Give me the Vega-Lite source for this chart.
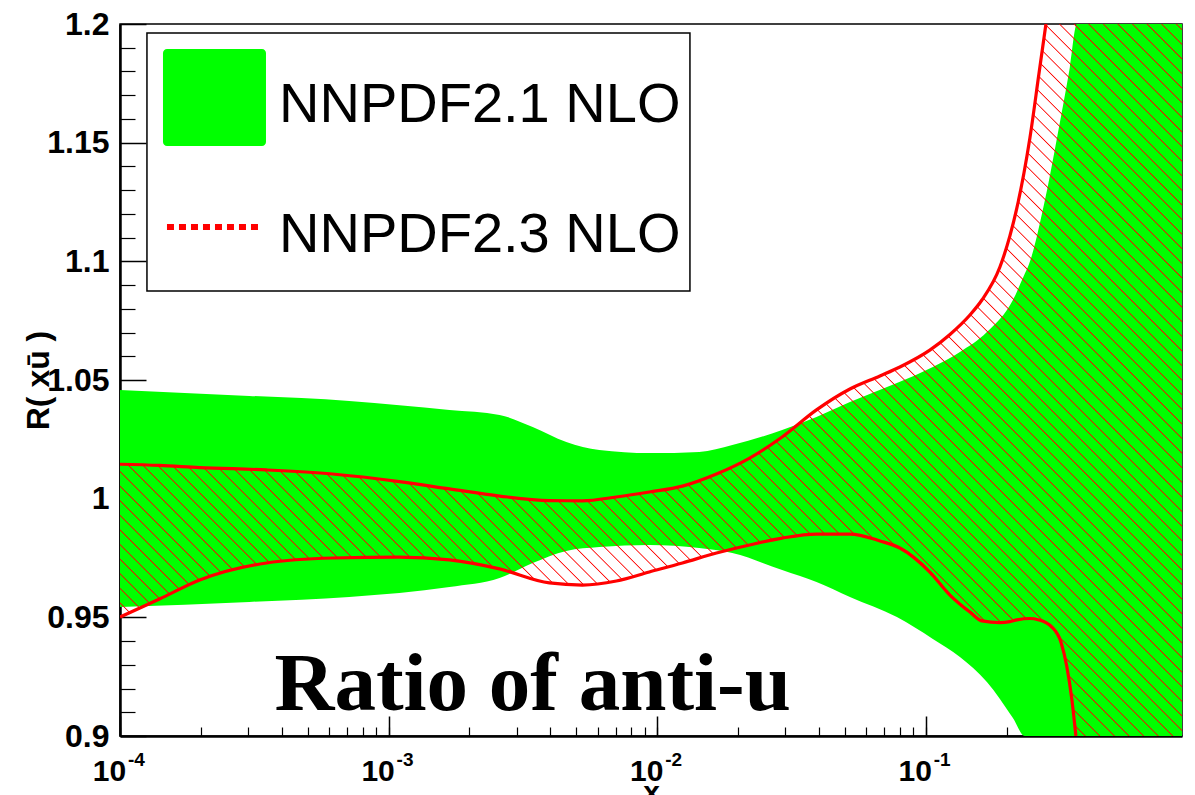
{
  "$schema": "https://vega.github.io/schema/vega-lite/v6.json",
  "width": 1062,
  "height": 712,
  "autosize": {"type": "none"},
  "padding": {"left": 120, "top": 24, "right": 13, "bottom": 59},
  "background": "white",
  "config": {
    "view": {"stroke": "#000", "strokeWidth": 1.5},
    "axis": {
      "grid": false,
      "labelFont": "Liberation Sans",
      "labelFontWeight": "bold",
      "labelColor": "#000",
      "tickColor": "#000",
      "domainColor": "#000",
      "titleFont": "Liberation Sans",
      "titleFontWeight": "bold",
      "titleColor": "#000",
      "labelFlush": false,
      "labelOverlap": false
    }
  },
  "data": {"values": [{}]},
  "datasets": {
    "nnpdf21": [
      {"x": 0.0001, "lo": 0.9544, "hi": 1.0458},
      {"x": 0.000303, "lo": 0.9565, "hi": 1.0433},
      {"x": 0.000714, "lo": 0.9586, "hi": 1.0412},
      {"x": 0.001686, "lo": 0.9628, "hi": 1.0374},
      {"x": 0.00259, "lo": 0.9666, "hi": 1.0353},
      {"x": 0.00344, "lo": 0.9729, "hi": 1.0302},
      {"x": 0.00459, "lo": 0.978, "hi": 1.0239},
      {"x": 0.00609, "lo": 0.9796, "hi": 1.0205},
      {"x": 0.00935, "lo": 0.9805, "hi": 1.0192},
      {"x": 0.01434, "lo": 0.9792, "hi": 1.0197},
      {"x": 0.01905, "lo": 0.9771, "hi": 1.0226},
      {"x": 0.0292, "lo": 0.9699, "hi": 1.0289},
      {"x": 0.0392, "lo": 0.9649, "hi": 1.0344},
      {"x": 0.05222, "lo": 0.9586, "hi": 1.0407},
      {"x": 0.0781, "lo": 0.9501, "hi": 1.0487},
      {"x": 0.1063, "lo": 0.9409, "hi": 1.0555},
      {"x": 0.1341, "lo": 0.9333, "hi": 1.0618},
      {"x": 0.169, "lo": 0.9228, "hi": 1.0702},
      {"x": 0.2112, "lo": 0.9076, "hi": 1.0837},
      {"x": 0.234, "lo": 0.9, "hi": 1.0949},
      {"x": 0.2401, "lo": 0.9, "hi": 1.0976},
      {"x": 0.2779, "lo": 0.9, "hi": 1.1258},
      {"x": 0.3106, "lo": 0.9, "hi": 1.1541},
      {"x": 0.3442, "lo": 0.9, "hi": 1.1819},
      {"x": 0.3655, "lo": 0.9, "hi": 1.2},
      {"x": 0.9, "lo": 0.9, "hi": 1.2}
    ],
    "nnpdf23": [
      {"x": 0.0001, "lo": 0.9501, "hi": 1.0145},
      {"x": 0.0001403, "lo": 0.9577, "hi": 1.014},
      {"x": 0.000198, "lo": 0.9657, "hi": 1.0131},
      {"x": 0.000351, "lo": 0.9729, "hi": 1.0121},
      {"x": 0.000618, "lo": 0.975, "hi": 1.0104},
      {"x": 0.001096, "lo": 0.9754, "hi": 1.0072},
      {"x": 0.001686, "lo": 0.9742, "hi": 1.0041},
      {"x": 0.00259, "lo": 0.9704, "hi": 1.0011},
      {"x": 0.00397, "lo": 0.9645, "hi": 0.9992},
      {"x": 0.00527, "lo": 0.9636, "hi": 0.9991},
      {"x": 0.00705, "lo": 0.9653, "hi": 1.0007},
      {"x": 0.00935, "lo": 0.9691, "hi": 1.0028},
      {"x": 0.01242, "lo": 0.9729, "hi": 1.0053},
      {"x": 0.01663, "lo": 0.9771, "hi": 1.0104},
      {"x": 0.0221, "lo": 0.9805, "hi": 1.0171},
      {"x": 0.0292, "lo": 0.9834, "hi": 1.026},
      {"x": 0.0392, "lo": 0.9851, "hi": 1.0374},
      {"x": 0.05222, "lo": 0.9851, "hi": 1.0462},
      {"x": 0.06753, "lo": 0.9822, "hi": 1.0517},
      {"x": 0.08014, "lo": 0.9792, "hi": 1.0555},
      {"x": 0.1036, "lo": 0.9691, "hi": 1.0626},
      {"x": 0.1231, "lo": 0.9594, "hi": 1.0692},
      {"x": 0.1461, "lo": 0.9522, "hi": 1.0774},
      {"x": 0.1619, "lo": 0.9485, "hi": 1.0837},
      {"x": 0.1889, "lo": 0.9478, "hi": 1.0976},
      {"x": 0.2058, "lo": 0.9482, "hi": 1.1107},
      {"x": 0.2185, "lo": 0.9489, "hi": 1.1225},
      {"x": 0.2443, "lo": 0.9495, "hi": 1.152},
      {"x": 0.2639, "lo": 0.9489, "hi": 1.1789},
      {"x": 0.2803, "lo": 0.9478, "hi": 1.2},
      {"x": 0.295, "lo": 0.9459, "hi": 1.2},
      {"x": 0.3187, "lo": 0.9396, "hi": 1.2},
      {"x": 0.3355, "lo": 0.9291, "hi": 1.2},
      {"x": 0.3502, "lo": 0.9152, "hi": 1.2},
      {"x": 0.3624, "lo": 0.9, "hi": 1.2},
      {"x": 0.9, "lo": 0.9, "hi": 1.2}
    ]
  },
  "layer": [
    {
      "data": {"name": "nnpdf21"},
      "mark": {"type": "area", "interpolate": "monotone", "clip": true, "color": "#00ff00"},
      "encoding": {
        "x": {
          "field": "x", "type": "quantitative",
          "scale": {"type": "log", "domain": [0.0001, 0.9], "nice": false},
          "axis": {
            "orient": "bottom",
            "values": [0.0001, 0.001, 0.01, 0.1],
            "tickSize": -20, "tickWidth": 1.5, "domainWidth": 2.5,
            "labelFontSize": 30, "labelPadding": 40, "labelOffset": -11,
            "labelExpr": "'10'",
            "title": "x", "titleFontSize": 30, "titleY": 65, "titleBaseline": "alphabetic"
          }
        },
        "y": {
          "field": "lo", "type": "quantitative",
          "scale": {"domain": [0.9, 1.2], "nice": false, "zero": false},
          "axis": {
            "orient": "left",
            "values": [0.9, 0.95, 1, 1.05, 1.1, 1.15, 1.2],
            "format": "~g",
            "tickSize": -26, "tickWidth": 1.5, "domainWidth": 2.5,
            "labelFontSize": 32, "labelPadding": 37,
            "title": "R( xū )", "titleFontSize": 32, "titleX": -72, "titleY": 356,
            "titleAngle": -90, "titleBaseline": "alphabetic", "titleAlign": "center"
          }
        },
        "y2": {"field": "hi"}
      }
    },
    {
      "data": {"name": "nnpdf23"},
      "mark": {
        "type": "area", "interpolate": "monotone", "clip": true,
        "color": {
          "gradient": "linear", "x1": 0, "y1": 1, "x2": 1.1524, "y2": 0.2274,
          "stops": [
{"offset":0.00028,"color":"#f000"},{"offset":0.00096,"color":"#f00"},{"offset":0.00163,"color":"#f000"},
{"offset":0.00851,"color":"#f000"},{"offset":0.00919,"color":"#f00"},{"offset":0.00986,"color":"#f000"},
{"offset":0.01674,"color":"#f000"},{"offset":0.01742,"color":"#f00"},{"offset":0.01809,"color":"#f000"},
{"offset":0.02497,"color":"#f000"},{"offset":0.02565,"color":"#f00"},{"offset":0.02632,"color":"#f000"},
{"offset":0.0332,"color":"#f000"},{"offset":0.03388,"color":"#f00"},{"offset":0.03455,"color":"#f000"},
{"offset":0.04143,"color":"#f000"},{"offset":0.04211,"color":"#f00"},{"offset":0.04278,"color":"#f000"},
{"offset":0.04966,"color":"#f000"},{"offset":0.05034,"color":"#f00"},{"offset":0.05101,"color":"#f000"},
{"offset":0.05789,"color":"#f000"},{"offset":0.05857,"color":"#f00"},{"offset":0.05924,"color":"#f000"},
{"offset":0.06612,"color":"#f000"},{"offset":0.0668,"color":"#f00"},{"offset":0.06747,"color":"#f000"},
{"offset":0.07435,"color":"#f000"},{"offset":0.07503,"color":"#f00"},{"offset":0.0757,"color":"#f000"},
{"offset":0.08258,"color":"#f000"},{"offset":0.08326,"color":"#f00"},{"offset":0.08393,"color":"#f000"},
{"offset":0.09081,"color":"#f000"},{"offset":0.09149,"color":"#f00"},{"offset":0.09216,"color":"#f000"},
{"offset":0.09904,"color":"#f000"},{"offset":0.09972,"color":"#f00"},{"offset":0.10039,"color":"#f000"},
{"offset":0.10727,"color":"#f000"},{"offset":0.10795,"color":"#f00"},{"offset":0.10862,"color":"#f000"},
{"offset":0.1155,"color":"#f000"},{"offset":0.11618,"color":"#f00"},{"offset":0.11685,"color":"#f000"},
{"offset":0.12373,"color":"#f000"},{"offset":0.12441,"color":"#f00"},{"offset":0.12508,"color":"#f000"},
{"offset":0.13196,"color":"#f000"},{"offset":0.13264,"color":"#f00"},{"offset":0.13331,"color":"#f000"},
{"offset":0.14019,"color":"#f000"},{"offset":0.14087,"color":"#f00"},{"offset":0.14154,"color":"#f000"},
{"offset":0.14842,"color":"#f000"},{"offset":0.1491,"color":"#f00"},{"offset":0.14977,"color":"#f000"},
{"offset":0.15665,"color":"#f000"},{"offset":0.15733,"color":"#f00"},{"offset":0.158,"color":"#f000"},
{"offset":0.16488,"color":"#f000"},{"offset":0.16556,"color":"#f00"},{"offset":0.16623,"color":"#f000"},
{"offset":0.17311,"color":"#f000"},{"offset":0.17379,"color":"#f00"},{"offset":0.17446,"color":"#f000"},
{"offset":0.18134,"color":"#f000"},{"offset":0.18202,"color":"#f00"},{"offset":0.18269,"color":"#f000"},
{"offset":0.18957,"color":"#f000"},{"offset":0.19025,"color":"#f00"},{"offset":0.19092,"color":"#f000"},
{"offset":0.1978,"color":"#f000"},{"offset":0.19848,"color":"#f00"},{"offset":0.19915,"color":"#f000"},
{"offset":0.20603,"color":"#f000"},{"offset":0.20671,"color":"#f00"},{"offset":0.20738,"color":"#f000"},
{"offset":0.21426,"color":"#f000"},{"offset":0.21494,"color":"#f00"},{"offset":0.21561,"color":"#f000"},
{"offset":0.22249,"color":"#f000"},{"offset":0.22317,"color":"#f00"},{"offset":0.22384,"color":"#f000"},
{"offset":0.23072,"color":"#f000"},{"offset":0.2314,"color":"#f00"},{"offset":0.23207,"color":"#f000"},
{"offset":0.23895,"color":"#f000"},{"offset":0.23963,"color":"#f00"},{"offset":0.2403,"color":"#f000"},
{"offset":0.24718,"color":"#f000"},{"offset":0.24786,"color":"#f00"},{"offset":0.24853,"color":"#f000"},
{"offset":0.25541,"color":"#f000"},{"offset":0.25609,"color":"#f00"},{"offset":0.25676,"color":"#f000"},
{"offset":0.26364,"color":"#f000"},{"offset":0.26432,"color":"#f00"},{"offset":0.26499,"color":"#f000"},
{"offset":0.27187,"color":"#f000"},{"offset":0.27255,"color":"#f00"},{"offset":0.27322,"color":"#f000"},
{"offset":0.2801,"color":"#f000"},{"offset":0.28078,"color":"#f00"},{"offset":0.28145,"color":"#f000"},
{"offset":0.28833,"color":"#f000"},{"offset":0.28901,"color":"#f00"},{"offset":0.28968,"color":"#f000"},
{"offset":0.29656,"color":"#f000"},{"offset":0.29724,"color":"#f00"},{"offset":0.29791,"color":"#f000"},
{"offset":0.30479,"color":"#f000"},{"offset":0.30547,"color":"#f00"},{"offset":0.30614,"color":"#f000"},
{"offset":0.31302,"color":"#f000"},{"offset":0.3137,"color":"#f00"},{"offset":0.31437,"color":"#f000"},
{"offset":0.32125,"color":"#f000"},{"offset":0.32193,"color":"#f00"},{"offset":0.3226,"color":"#f000"},
{"offset":0.32948,"color":"#f000"},{"offset":0.33016,"color":"#f00"},{"offset":0.33083,"color":"#f000"},
{"offset":0.33771,"color":"#f000"},{"offset":0.33839,"color":"#f00"},{"offset":0.33906,"color":"#f000"},
{"offset":0.34594,"color":"#f000"},{"offset":0.34662,"color":"#f00"},{"offset":0.34729,"color":"#f000"},
{"offset":0.35417,"color":"#f000"},{"offset":0.35485,"color":"#f00"},{"offset":0.35552,"color":"#f000"},
{"offset":0.3624,"color":"#f000"},{"offset":0.36308,"color":"#f00"},{"offset":0.36375,"color":"#f000"},
{"offset":0.37063,"color":"#f000"},{"offset":0.37131,"color":"#f00"},{"offset":0.37198,"color":"#f000"},
{"offset":0.37886,"color":"#f000"},{"offset":0.37954,"color":"#f00"},{"offset":0.38021,"color":"#f000"},
{"offset":0.38709,"color":"#f000"},{"offset":0.38777,"color":"#f00"},{"offset":0.38844,"color":"#f000"},
{"offset":0.39532,"color":"#f000"},{"offset":0.396,"color":"#f00"},{"offset":0.39667,"color":"#f000"},
{"offset":0.40355,"color":"#f000"},{"offset":0.40423,"color":"#f00"},{"offset":0.4049,"color":"#f000"},
{"offset":0.41178,"color":"#f000"},{"offset":0.41246,"color":"#f00"},{"offset":0.41313,"color":"#f000"},
{"offset":0.42001,"color":"#f000"},{"offset":0.42069,"color":"#f00"},{"offset":0.42136,"color":"#f000"},
{"offset":0.42824,"color":"#f000"},{"offset":0.42892,"color":"#f00"},{"offset":0.42959,"color":"#f000"},
{"offset":0.43647,"color":"#f000"},{"offset":0.43715,"color":"#f00"},{"offset":0.43782,"color":"#f000"},
{"offset":0.4447,"color":"#f000"},{"offset":0.44538,"color":"#f00"},{"offset":0.44605,"color":"#f000"},
{"offset":0.45293,"color":"#f000"},{"offset":0.45361,"color":"#f00"},{"offset":0.45428,"color":"#f000"},
{"offset":0.46116,"color":"#f000"},{"offset":0.46184,"color":"#f00"},{"offset":0.46251,"color":"#f000"},
{"offset":0.46939,"color":"#f000"},{"offset":0.47007,"color":"#f00"},{"offset":0.47074,"color":"#f000"},
{"offset":0.47762,"color":"#f000"},{"offset":0.4783,"color":"#f00"},{"offset":0.47897,"color":"#f000"},
{"offset":0.48585,"color":"#f000"},{"offset":0.48653,"color":"#f00"},{"offset":0.4872,"color":"#f000"},
{"offset":0.49408,"color":"#f000"},{"offset":0.49476,"color":"#f00"},{"offset":0.49543,"color":"#f000"},
{"offset":0.50231,"color":"#f000"},{"offset":0.50299,"color":"#f00"},{"offset":0.50366,"color":"#f000"},
{"offset":0.51054,"color":"#f000"},{"offset":0.51122,"color":"#f00"},{"offset":0.51189,"color":"#f000"},
{"offset":0.51877,"color":"#f000"},{"offset":0.51945,"color":"#f00"},{"offset":0.52012,"color":"#f000"},
{"offset":0.527,"color":"#f000"},{"offset":0.52768,"color":"#f00"},{"offset":0.52835,"color":"#f000"},
{"offset":0.53523,"color":"#f000"},{"offset":0.53591,"color":"#f00"},{"offset":0.53658,"color":"#f000"},
{"offset":0.54346,"color":"#f000"},{"offset":0.54414,"color":"#f00"},{"offset":0.54481,"color":"#f000"},
{"offset":0.55169,"color":"#f000"},{"offset":0.55237,"color":"#f00"},{"offset":0.55304,"color":"#f000"},
{"offset":0.55992,"color":"#f000"},{"offset":0.5606,"color":"#f00"},{"offset":0.56127,"color":"#f000"},
{"offset":0.56815,"color":"#f000"},{"offset":0.56883,"color":"#f00"},{"offset":0.5695,"color":"#f000"},
{"offset":0.57638,"color":"#f000"},{"offset":0.57706,"color":"#f00"},{"offset":0.57773,"color":"#f000"},
{"offset":0.58461,"color":"#f000"},{"offset":0.58529,"color":"#f00"},{"offset":0.58596,"color":"#f000"},
{"offset":0.59284,"color":"#f000"},{"offset":0.59352,"color":"#f00"},{"offset":0.59419,"color":"#f000"},
{"offset":0.60107,"color":"#f000"},{"offset":0.60175,"color":"#f00"},{"offset":0.60242,"color":"#f000"},
{"offset":0.6093,"color":"#f000"},{"offset":0.60998,"color":"#f00"},{"offset":0.61065,"color":"#f000"},
{"offset":0.61753,"color":"#f000"},{"offset":0.61821,"color":"#f00"},{"offset":0.61888,"color":"#f000"},
{"offset":0.62576,"color":"#f000"},{"offset":0.62644,"color":"#f00"},{"offset":0.62711,"color":"#f000"},
{"offset":0.63399,"color":"#f000"},{"offset":0.63467,"color":"#f00"},{"offset":0.63534,"color":"#f000"},
{"offset":0.64222,"color":"#f000"},{"offset":0.6429,"color":"#f00"},{"offset":0.64357,"color":"#f000"},
{"offset":0.65045,"color":"#f000"},{"offset":0.65113,"color":"#f00"},{"offset":0.6518,"color":"#f000"},
{"offset":0.65868,"color":"#f000"},{"offset":0.65936,"color":"#f00"},{"offset":0.66003,"color":"#f000"},
{"offset":0.66691,"color":"#f000"},{"offset":0.66759,"color":"#f00"},{"offset":0.66826,"color":"#f000"},
{"offset":0.67514,"color":"#f000"},{"offset":0.67582,"color":"#f00"},{"offset":0.67649,"color":"#f000"},
{"offset":0.68337,"color":"#f000"},{"offset":0.68405,"color":"#f00"},{"offset":0.68472,"color":"#f000"},
{"offset":0.6916,"color":"#f000"},{"offset":0.69228,"color":"#f00"},{"offset":0.69295,"color":"#f000"},
{"offset":0.69983,"color":"#f000"},{"offset":0.70051,"color":"#f00"},{"offset":0.70118,"color":"#f000"},
{"offset":0.70806,"color":"#f000"},{"offset":0.70874,"color":"#f00"},{"offset":0.70941,"color":"#f000"},
{"offset":0.71629,"color":"#f000"},{"offset":0.71697,"color":"#f00"},{"offset":0.71764,"color":"#f000"},
{"offset":0.72452,"color":"#f000"},{"offset":0.7252,"color":"#f00"},{"offset":0.72587,"color":"#f000"},
{"offset":0.73275,"color":"#f000"},{"offset":0.73343,"color":"#f00"},{"offset":0.7341,"color":"#f000"},
{"offset":0.74098,"color":"#f000"},{"offset":0.74166,"color":"#f00"},{"offset":0.74233,"color":"#f000"},
{"offset":0.74921,"color":"#f000"},{"offset":0.74989,"color":"#f00"},{"offset":0.75056,"color":"#f000"},
{"offset":0.75744,"color":"#f000"},{"offset":0.75812,"color":"#f00"},{"offset":0.75879,"color":"#f000"},
{"offset":0.76567,"color":"#f000"},{"offset":0.76635,"color":"#f00"},{"offset":0.76702,"color":"#f000"},
{"offset":0.7739,"color":"#f000"},{"offset":0.77458,"color":"#f00"},{"offset":0.77525,"color":"#f000"},
{"offset":0.78213,"color":"#f000"},{"offset":0.78281,"color":"#f00"},{"offset":0.78348,"color":"#f000"},
{"offset":0.79036,"color":"#f000"},{"offset":0.79104,"color":"#f00"},{"offset":0.79171,"color":"#f000"},
{"offset":0.79859,"color":"#f000"},{"offset":0.79927,"color":"#f00"},{"offset":0.79994,"color":"#f000"},
{"offset":0.80682,"color":"#f000"},{"offset":0.8075,"color":"#f00"},{"offset":0.80817,"color":"#f000"},
{"offset":0.81505,"color":"#f000"},{"offset":0.81573,"color":"#f00"},{"offset":0.8164,"color":"#f000"},
{"offset":0.82328,"color":"#f000"},{"offset":0.82396,"color":"#f00"},{"offset":0.82463,"color":"#f000"},
{"offset":0.83151,"color":"#f000"},{"offset":0.83219,"color":"#f00"},{"offset":0.83286,"color":"#f000"},
{"offset":0.83974,"color":"#f000"},{"offset":0.84042,"color":"#f00"},{"offset":0.84109,"color":"#f000"},
{"offset":0.84797,"color":"#f000"},{"offset":0.84865,"color":"#f00"},{"offset":0.84932,"color":"#f000"},
{"offset":0.8562,"color":"#f000"},{"offset":0.85688,"color":"#f00"},{"offset":0.85755,"color":"#f000"},
{"offset":0.86443,"color":"#f000"},{"offset":0.86511,"color":"#f00"},{"offset":0.86578,"color":"#f000"},
{"offset":0.87266,"color":"#f000"},{"offset":0.87334,"color":"#f00"},{"offset":0.87401,"color":"#f000"},
{"offset":0.88089,"color":"#f000"},{"offset":0.88157,"color":"#f00"},{"offset":0.88224,"color":"#f000"},
{"offset":0.88912,"color":"#f000"},{"offset":0.8898,"color":"#f00"},{"offset":0.89047,"color":"#f000"},
{"offset":0.89735,"color":"#f000"},{"offset":0.89803,"color":"#f00"},{"offset":0.8987,"color":"#f000"},
{"offset":0.90558,"color":"#f000"},{"offset":0.90626,"color":"#f00"},{"offset":0.90693,"color":"#f000"},
{"offset":0.91381,"color":"#f000"},{"offset":0.91449,"color":"#f00"},{"offset":0.91516,"color":"#f000"},
{"offset":0.92204,"color":"#f000"},{"offset":0.92272,"color":"#f00"},{"offset":0.92339,"color":"#f000"},
{"offset":0.93027,"color":"#f000"},{"offset":0.93095,"color":"#f00"},{"offset":0.93162,"color":"#f000"},
{"offset":0.9385,"color":"#f000"},{"offset":0.93918,"color":"#f00"},{"offset":0.93985,"color":"#f000"},
{"offset":0.94673,"color":"#f000"},{"offset":0.94741,"color":"#f00"},{"offset":0.94808,"color":"#f000"},
{"offset":0.95496,"color":"#f000"},{"offset":0.95564,"color":"#f00"},{"offset":0.95631,"color":"#f000"},
{"offset":0.96319,"color":"#f000"},{"offset":0.96387,"color":"#f00"},{"offset":0.96454,"color":"#f000"},
{"offset":0.97142,"color":"#f000"},{"offset":0.9721,"color":"#f00"},{"offset":0.97277,"color":"#f000"},
{"offset":0.97965,"color":"#f000"},{"offset":0.98033,"color":"#f00"},{"offset":0.981,"color":"#f000"},
{"offset":0.98788,"color":"#f000"},{"offset":0.98856,"color":"#f00"},{"offset":0.98923,"color":"#f000"},
{"offset":0.99611,"color":"#f000"},{"offset":0.99679,"color":"#f00"},{"offset":0.99746,"color":"#f000"}
          ]
        }
      },
      "encoding": {
        "x": {"field": "x", "type": "quantitative", "axis": null},
        "y": {"field": "lo", "type": "quantitative", "axis": null},
        "y2": {"field": "hi"}
      }
    },
    {
      "data": {"name": "nnpdf23"},
      "transform": [{"filter": "datum.x <= 0.281"}],
      "mark": {"type": "line", "interpolate": "monotone", "clip": true, "color": "#ff0000", "strokeWidth": 3.2},
      "encoding": {
        "x": {
          "field": "x", "type": "quantitative",
          "axis": {
            "orient": "bottom",
            "values": [0.0001, 0.0002, 0.0003, 0.0004, 0.0005, 0.0006, 0.0007, 0.0008, 0.0009,
                       0.001, 0.002, 0.003, 0.004, 0.005, 0.006, 0.007, 0.008, 0.009,
                       0.01, 0.02, 0.03, 0.04, 0.05, 0.06, 0.07, 0.08, 0.09,
                       0.1, 0.2, 0.3, 0.4, 0.5, 0.6, 0.7, 0.8],
            "tickSize": -9, "tickWidth": 1.2, "domain": false,
            "labelFontSize": 19, "labelPadding": 23.5, "labelOffset": 16,
            "labelExpr": "datum.value == 0.0001 ? '-4' : datum.value == 0.001 ? '-3' : datum.value == 0.01 ? '-2' : datum.value == 0.1 ? '-1' : ''",
            "title": null
          }
        },
        "y": {
          "field": "hi", "type": "quantitative",
          "axis": {
            "orient": "left",
            "values": [0.91, 0.92, 0.93, 0.94, 0.96, 0.97, 0.98, 0.99, 1.01, 1.02, 1.03, 1.04,
                       1.06, 1.07, 1.08, 1.09, 1.11, 1.12, 1.13, 1.14, 1.16, 1.17, 1.18, 1.19],
            "tickSize": -15, "tickWidth": 1.2, "domain": false, "labels": false, "title": null
          }
        }
      }
    },
    {
      "data": {"name": "nnpdf23"},
      "transform": [{"filter": "datum.x <= 0.363"}],
      "mark": {"type": "line", "interpolate": "monotone", "clip": true, "color": "#ff0000", "strokeWidth": 3.2},
      "encoding": {
        "x": {"field": "x", "type": "quantitative", "axis": null},
        "y": {"field": "lo", "type": "quantitative", "axis": null}
      }
    },
    {
      "mark": {"type": "text", "font": "Liberation Serif", "fontWeight": "bold", "fontSize": 83, "align": "center", "baseline": "alphabetic", "color": "#000"},
      "encoding": {
        "x": {"datum": 0.00344, "type": "quantitative", "axis": null},
        "y": {"datum": 0.911, "type": "quantitative", "axis": null},
        "text": {"value": "Ratio of anti-u"}
      }
    },
    {
      "mark": {"type": "rect", "fill": "#fff", "stroke": "#000", "strokeWidth": 1.5},
      "encoding": {
        "x": {"datum": 0.000126, "type": "quantitative", "axis": null},
        "x2": {"datum": 0.013247},
        "y": {"datum": 1.19621, "type": "quantitative", "axis": null},
        "y2": {"datum": 1.0875}
      }
    },
    {
      "mark": {"type": "rect", "fill": "#00ff00", "cornerRadius": 4},
      "encoding": {
        "x": {"datum": 0.00014456, "type": "quantitative", "axis": null},
        "x2": {"datum": 0.00034959},
        "y": {"datum": 1.18947, "type": "quantitative", "axis": null},
        "y2": {"datum": 1.1486}
      }
    },
    {
      "mark": {"type": "rule", "color": "#ff0000", "strokeWidth": 6, "strokeDash": [7, 5]},
      "encoding": {
        "x": {"datum": 0.0001496, "type": "quantitative", "axis": null},
        "x2": {"datum": 0.00032641},
        "y": {"datum": 1.11447, "type": "quantitative", "axis": null}
      }
    },
    {
      "mark": {"type": "text", "font": "Liberation Sans", "fontSize": 56, "align": "left", "baseline": "alphabetic", "color": "#000"},
      "encoding": {
        "x": {"datum": 0.00039086, "type": "quantitative", "axis": null},
        "y": {"datum": 1.15871, "type": "quantitative", "axis": null},
        "text": {"value": "NNPDF2.1 NLO"}
      }
    },
    {
      "mark": {"type": "text", "font": "Liberation Sans", "fontSize": 56, "align": "left", "baseline": "alphabetic", "color": "#000"},
      "encoding": {
        "x": {"datum": 0.00039086, "type": "quantitative", "axis": null},
        "y": {"datum": 1.1039, "type": "quantitative", "axis": null},
        "text": {"value": "NNPDF2.3 NLO"}
      }
    }
  ],
  "resolve": {"axis": {"x": "independent", "y": "independent"}}
}
